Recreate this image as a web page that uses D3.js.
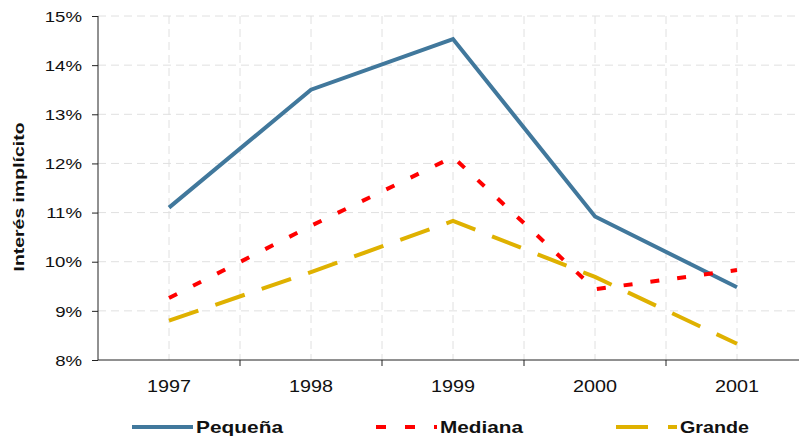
<!DOCTYPE html>
<html>
<head>
<meta charset="utf-8">
<script src="https://cdn.jsdelivr.net/npm/d3@7"></script>
<style>
  body { margin: 0; background: #fff; }
  text { font-family: Arial, "Liberation Sans", sans-serif; }
</style>
</head>
<body>
<div id="chart_div"></div>
<script>
// data
var years = ['1997', '1998', '1999', '2000', '2001'];
var pequena = [11.1, 13.5, 14.53, 10.92, 9.48];
var mediana = [9.26, 10.73, 12.13, 9.44, 9.83];
var grande = [8.8, 9.79, 10.83, 9.69, 8.33];
var yTicks = [8, 9, 10, 11, 12, 13, 14, 15];

var svg_width = 799,
  svg_height = 437,
  left = 98,
  right = 808,
  top_y = 16,
  bottom_y = 360;

var svg = d3.select('#chart_div')
  .append('svg')
  .attr('width', svg_width)
  .attr('height', svg_height);

var x = d3.scaleBand()
  .domain(years)
  .range([left, right]);

var y = d3.scaleLinear()
  .domain([8, 15])
  .range([bottom_y, top_y]);

// grid, dashed light grey
var grid = svg.append('g').attr('class', 'grid');
grid.selectAll('line.h')
  .data(yTicks.slice(1))
  .enter().append('line')
  .attr('x1', left).attr('x2', right)
  .attr('y1', function (d) { return y(d); })
  .attr('y2', function (d) { return y(d); })
  .attr('stroke', '#e0e0e0')
  .attr('stroke-width', 1)
  .attr('stroke-dasharray', '8,5');

// vertical grid at category centres and boundaries
var vlines = [];
years.forEach(function (d, i) {
  vlines.push(x(d) + x.bandwidth() / 2);
  if (i > 0) vlines.push(x(d));
});
grid.selectAll('line.v')
  .data(vlines)
  .enter().append('line')
  .attr('x1', function (d) { return d; })
  .attr('x2', function (d) { return d; })
  .attr('y1', top_y).attr('y2', bottom_y)
  .attr('stroke', '#e0e0e0')
  .attr('stroke-width', 1)
  .attr('stroke-dasharray', '8,5');

// y axis
var yAxis = d3.axisLeft(y)
  .tickValues(yTicks)
  .tickSize(6)
  .tickFormat(function (d) { return d + '%'; });
var gy = svg.append('g')
  .attr('transform', 'translate(' + left + ',0)')
  .call(yAxis);
gy.select('.domain').attr('stroke', '#222').attr('d', 'M0,' + top_y + 'V' + bottom_y);
gy.selectAll('.tick line').attr('stroke', '#222');
gy.selectAll('.tick text')
  .attr('x', -16)
  .attr('dy', '0.34em')
  .attr('fill', '#111')
  .style('font-size', '15.5px')
  .each(function () {
    // the original text is drawn a bit wider than plain Arial
    var w = this.getComputedTextLength();
    d3.select(this).attr('textLength', w * 1.2).attr('lengthAdjust', 'spacingAndGlyphs');
  });

// x axis, ticks on category boundaries
var gx = svg.append('g')
  .attr('transform', 'translate(0,' + bottom_y + ')');
gx.append('line')
  .attr('x1', left).attr('x2', right)
  .attr('stroke', '#222');
gx.selectAll('line.tick')
  .data(years.slice(1))
  .enter().append('line')
  .attr('x1', function (d) { return x(d); })
  .attr('x2', function (d) { return x(d); })
  .attr('y1', 0).attr('y2', 6)
  .attr('stroke', '#222');
gx.selectAll('text')
  .data(years)
  .enter().append('text')
  .attr('x', function (d) { return x(d) + x.bandwidth() / 2; })
  .attr('y', 32)
  .attr('text-anchor', 'middle')
  .attr('fill', '#111')
  .attr('textLength', 44)
  .attr('lengthAdjust', 'spacingAndGlyphs')
  .style('font-size', '17px')
  .text(function (d) { return d; });

// y label
svg.append('text')
  .attr('transform', 'translate(24,' + 197 + ') rotate(-90)')
  .attr('text-anchor', 'middle')
  .attr('style', 'font-size: 15px; font-weight: bold')
  .attr('fill', '#111')
  .attr('textLength', 149)
  .attr('lengthAdjust', 'spacingAndGlyphs')
  .text('Interés implícito');

var series = [
  { name: 'Pequeña', values: pequena, color: '#41789c', dash: null, legDash: null, tw: 87 },
  { name: 'Mediana', values: mediana, color: '#ff0000', dash: '9,18', legDash: '10,19', tw: 83 },
  { name: 'Grande', values: grande, color: '#dfb100', dash: '31,18', legDash: '32,20', tw: 69 }
];

var line = d3.line()
  .x(function (d, i) { return x(years[i]) + x.bandwidth() / 2; })
  .y(function (d) { return y(d); });

svg.selectAll('path.series')
  .data(series)
  .enter().append('path')
  .attr('class', 'series')
  .attr('d', function (d) { return line(d.values); })
  .attr('fill', 'none')
  .attr('stroke', function (d) { return d.color; })
  .attr('stroke-width', 4)
  .attr('stroke-dasharray', function (d) { return d.dash; });

// legend
var legendX = [132, 376, 616];
var legend = svg.append('g').attr('class', 'legend');
series.forEach(function (s, i) {
  legend.append('line')
    .attr('x1', legendX[i]).attr('x2', legendX[i] + 61)
    .attr('y1', 427).attr('y2', 427)
    .attr('stroke', s.color)
    .attr('stroke-width', 4)
    .attr('stroke-dasharray', s.legDash);
  legend.append('text')
    .attr('x', legendX[i] + 64)
    .attr('y', 433)
    .attr('fill', '#111')
    .attr('textLength', s.tw)
    .attr('lengthAdjust', 'spacingAndGlyphs')
    .attr('style', 'font-size: 16.5px; font-weight: bold')
    .text(s.name);
});
</script>
</body>
</html>
